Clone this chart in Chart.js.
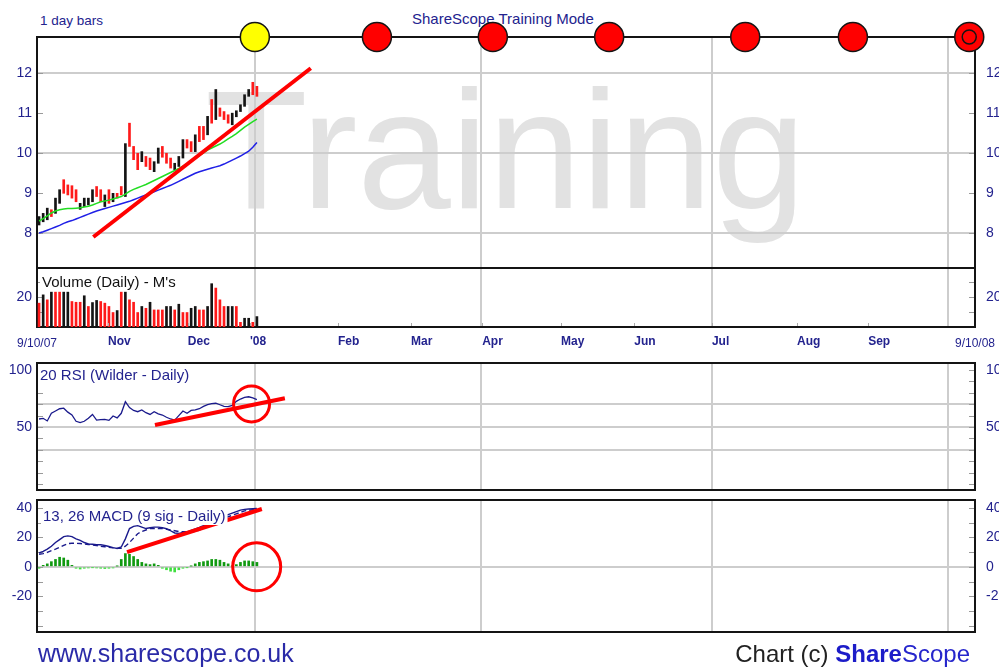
<!DOCTYPE html>
<html>
<head>
<meta charset="utf-8">
<script src="https://cdn.jsdelivr.net/npm/chart.js@4.4.1/dist/chart.umd.min.js"></script>
<style>
  html, body { margin: 0; padding: 0; background: #fff; }
  #wrap { position: relative; width: 999px; height: 670px; overflow: hidden;
          font-family: "Liberation Sans", Arial, sans-serif; }
  #wrap canvas { position: absolute; left: 0; top: 0; }
  .txt { position: absolute; white-space: nowrap; line-height: 1; }
</style>
</head>
<body>
<div id="wrap">
  <div class="txt" style="left:40px;top:13.6px;font-size:13.5px;color:#23238e">1 day bars</div>
  <div class="txt" style="left:412px;top:11.3px;font-size:15px;color:#23238e">ShareScope Training Mode</div>
  <canvas id="cPrice" width="999" height="670"></canvas>
  <canvas id="cVol" width="999" height="670"></canvas>
  <canvas id="cRsi" width="999" height="670"></canvas>
  <canvas id="cMacd" width="999" height="670"></canvas>
  <div class="txt" style="left:38px;top:641.3px;font-size:25px;color:#2a2aa8">www.sharescope.co.uk</div>
  <div class="txt" style="right:29px;top:641.7px;font-size:24px;color:#222">Chart (c) <b style="color:#1c1cc8">Share</b><span style="color:#2626cc">Scope</span></div>
</div>
<script>
'use strict';

// ── Daily bars, 9/10/07 → end of Dec 07 (one entry per trading day) ─────────
var priceHigh = [8.41, 8.49, 8.62, 8.58, 8.87, 9.08, 9.33, 9.20, 9.18, 9.08,
                 8.74, 8.87, 8.87, 9.08, 9.16, 9.08, 8.95, 9.08, 8.99, 8.99,
                 9.16, 10.23, 10.74, 10.16, 9.99, 10.03, 9.91, 9.87, 9.78, 10.12,
                 10.16, 9.99, 9.87, 9.74, 9.91, 10.33, 10.33, 10.28, 10.45, 10.66,
                 10.66, 10.91, 11.33, 11.58, 11.12, 11.03, 10.95, 10.99, 11.05, 11.20,
                 11.45, 11.58, 11.76, 11.66];
var priceLow  = [8.20, 8.28, 8.33, 8.41, 8.49, 8.74, 8.99, 8.95, 8.87, 8.78,
                 8.59, 8.66, 8.70, 8.78, 8.91, 8.78, 8.66, 8.74, 8.78, 8.87,
                 8.95, 8.91, 10.16, 9.83, 9.58, 9.78, 9.66, 9.58, 9.53, 9.74,
                 9.89, 9.74, 9.62, 9.58, 9.66, 9.87, 10.12, 10.03, 10.03, 10.28,
                 10.33, 10.45, 10.74, 10.83, 10.91, 10.83, 10.74, 10.70, 10.90, 11.03,
                 11.16, 11.41, 11.45, 11.41];
var barUp     = [1, 1, 1, 0, 1, 1, 0, 0, 0, 0,  1, 1, 1, 1, 0, 0, 1, 0, 1, 0,
                 0, 1, 0, 0, 0, 1, 0, 0, 1, 1,  0, 0, 0, 1, 1, 1, 0, 0, 1, 0,
                 0, 1, 0, 1, 0, 0, 0, 1, 1, 1,  1, 1, 0, 0];
var maGreen   = [8.30, 8.36, 8.43, 8.50, 8.55, 8.58, 8.60, 8.61, 8.61, 8.62,
                 8.63, 8.65, 8.67, 8.70, 8.74, 8.78, 8.80, 8.82, 8.85, 8.88,
                 8.91, 8.97, 9.04, 9.09, 9.13, 9.17, 9.21, 9.26, 9.31, 9.36,
                 9.41, 9.46, 9.51, 9.56, 9.61, 9.67, 9.73, 9.79, 9.86, 9.93,
                 10.00, 10.07, 10.12, 10.17, 10.22, 10.28, 10.35, 10.41, 10.48, 10.56,
                 10.64, 10.71, 10.78, 10.84];
var maBlue    = [8.00, 8.03, 8.07, 8.11, 8.15, 8.19, 8.24, 8.28, 8.31, 8.35,
                 8.39, 8.43, 8.47, 8.51, 8.55, 8.58, 8.61, 8.64, 8.67, 8.70,
                 8.73, 8.76, 8.79, 8.83, 8.87, 8.91, 8.95, 8.99, 9.03, 9.07,
                 9.11, 9.15, 9.19, 9.24, 9.29, 9.34, 9.39, 9.44, 9.49, 9.53,
                 9.56, 9.59, 9.62, 9.65, 9.68, 9.72, 9.77, 9.82, 9.87, 9.92,
                 9.98, 10.04, 10.14, 10.26];
var volume    = [15.8, 21.3, 18, 23.1, 23.1, 23.1, 23.1, 23.1, 16.9, 16.4,
                 16.4, 20.7, 13.6, 16.2, 17.6, 16.9, 15.8, 13.6, 9.6, 10.9,
                 23.1, 23.1, 18, 16.4, 9.6, 13.6, 12.4, 16.4, 11.3, 11.3,
                 11.3, 13.6, 13.6, 11.3, 15.1, 9.6, 9.6, 12.4, 13.6, 11.3,
                 11.3, 13.6, 28.7, 25.8, 18, 13.6, 13.6, 13.6, 13.6, 3.1,
                 5.8, 5.8, 3.1, 6.9];
var volUp     = [0, 1, 0, 1, 0, 0, 1, 1, 0, 0,  0, 1, 0, 1, 1, 0, 0, 0, 0, 1,
                 0, 1, 0, 0, 0, 1, 0, 1, 0, 0,  0, 1, 1, 0, 1, 0, 0, 1, 1, 0,
                 0, 1, 1, 0, 0, 0, 1, 1, 0, 0,  1, 1, 0, 1];
var rsi       = [57, 57.6, 55.3, 62, 64, 66, 66.5, 63, 60.5, 55,
                 53.8, 55, 57.6, 61, 56, 56.5, 56.7, 55.8, 59.6, 58,
                 62, 72.2, 67, 64.5, 63.4, 65, 62.5, 61, 63.4, 61.5,
                 60.5, 58.5, 57, 56, 60, 64, 62, 64.5, 65, 66,
                 68, 69.5, 70.5, 70.8, 69.5, 68, 67.8, 69, 72.5, 74.5,
                 76, 76.5, 75.5, 74];
var macd      = [9.5, 10.5, 12, 14, 16.5, 18.5, 20.5, 21, 20.5, 19,
                 18, 16.5, 15.5, 15.3, 15, 15.1, 14.5, 13.8, 13, 12.5,
                 13.5, 19, 26, 27.5, 28, 27, 26, 26.5, 27, 27,
                 26.5, 26, 24.5, 23, 22.7, 23.3, 23.8, 24.8, 25.8, 26.8,
                 28, 29.3, 30.5, 31.5, 33, 34.5, 35.5, 36.5, 37.5, 38.5,
                 39, 39.3, 39.5, 39.6];
var macdSignal = [8.5, 9, 9.8, 11, 12, 13.2, 14.5, 15.8, 16, 16,
                 15.8, 15.5, 15.2, 14.9, 14.5, 14, 13.6, 13.2, 12.9, 12.6,
                 12.5, 14, 16.5, 19.5, 22.5, 24, 25, 26, 26, 26,
                 26, 25.5, 25, 24.5, 24, 23.8, 23.8, 23.8, 24, 25,
                 26.2, 27.1, 28.5, 30, 31.5, 33, 34, 35, 36, 37,
                 38, 38.4, 38.8, 39];
var macdHist  = [-1, 1, 2, 3.5, 5, 6.5, 6, 4.5, 1, -1,
                 -1.5, -1, -0.8, -0.5, -0.8, -1, -1.2, -1, -0.8, 0.5,
                 5, 9, 8.5, 7, 5, 3, 2, 1.5, 2, 1,
                 -1, -2, -3, -3.5, -2, -1, -0.5, 0.5, 2, 3,
                 3.5, 4, 5, 5, 4.5, 3, 2, 0.5, 1.5, 3,
                 4, 4, 3.5, 3];

// ── Time axis (trading-day units) ───────────────────────────────────────────
var X_MAX        = 228.2;
var quarterLines = [53.0, 108.0, 164.2, 221.7];
var monthTicks   = [17.3, 36.7, 51.8, 73.2, 91.0, 108.3, 127.5, 145.3, 164.2, 184.9, 202.2];
var monthLabels  = ['Nov', 'Dec', "'08", 'Feb', 'Mar', 'Apr', 'May', 'Jun', 'Jul', 'Aug', 'Sep'];
var endDates     = ['9/10/07', '9/10/08'];

// ── Value axes ──────────────────────────────────────────────────────────────
var priceTicks = [8, 9, 10, 11, 12],      priceLabels = [8, 9, 10, 11, 12], priceGrid = [8, 10, 12];
var volTicks   = [10, 20, 30],            volLabels   = [20],               volGrid   = [];
var rsiTicks   = [0, 10, 20, 30, 40, 50, 60, 70, 80, 90, 100], rsiLabels = [50, 100], rsiGrid = [30, 50, 70];
var macdTicks  = [-40, -30, -20, -10, 0, 10, 20, 30, 40], macdLabels = [-20, 0, 20, 40], macdGrid = [0];

// ── Training-mode markers and hand-drawn annotations ────────────────────────
var stageX      = [53.0, 82.7, 110.9, 139.2, 172.3, 198.5, 226.8];
var priceTrendX = [13.7, 66.6],  priceTrendY = [7.9, 12.11];
var rsiTrendX   = [28.7, 60.3],  rsiTrendY   = [51.8, 75.2];
var rsiMarkX    = [52.2],        rsiMarkY    = [70.2];
var macdTrendX  = [21.9, 54.7],  macdTrendY  = [10, 39.3];
var macdMarkX   = [53.45],       macdMarkY   = [0];

// ── Style ───────────────────────────────────────────────────────────────────
var NAVY = '#23238e', GRID = '#cdcdcd', RED = '#ff1a1a', INK = '#141414';
var FONT = '"Liberation Sans", Arial, sans-serif';

Chart.defaults.font.family = FONT;
Chart.defaults.animation = false;
Chart.defaults.events = [];
Chart.defaults.plugins.legend.display = false;
Chart.defaults.plugins.tooltip.enabled = false;

function xy(xs, ys) { return xs.map(function (x, i) { return { x: x, y: ys[i] }; }); }
function perBar(vals) { return vals.map(function (v, i) { return { x: i + 0.5, y: v }; }); }

// ── Plugins ─────────────────────────────────────────────────────────────────
// panel box + short inside tick marks on both edges
var framePlugin = {
  id: 'frame',
  beforeDatasetsDraw: function (chart) {
    var a = chart.chartArea, ctx = chart.ctx, ys = chart.scales.y;
    ctx.save();
    ctx.strokeStyle = '#9a9a9a';
    ctx.lineWidth = 1;
    ys.ticks.forEach(function (t) {
      var p = Math.round(ys.getPixelForValue(t.value)) + 0.5;
      ctx.beginPath();
      ctx.moveTo(a.left, p);  ctx.lineTo(a.left + 6, p);
      ctx.moveTo(a.right - 6, p); ctx.lineTo(a.right, p);
      ctx.stroke();
    });
    ctx.strokeStyle = INK;
    ctx.lineWidth = 2;
    ctx.strokeRect(a.left, a.top, a.right - a.left, a.bottom - a.top);
    ctx.restore();
  }
};

// indicator name, top-left, on a white patch
var labelPlugin = {
  id: 'panelLabel',
  afterDatasetsDraw: function (chart, args, o) {
    if (!o || !o.text) return;
    var ctx = chart.ctx;
    ctx.save();
    ctx.font = '15px ' + FONT;
    var w = ctx.measureText(o.text).width;
    ctx.fillStyle = '#fff';
    ctx.fillRect(o.x - 2, o.y - 8, w + 4, 16);
    ctx.fillStyle = o.color;
    ctx.textBaseline = 'middle';
    ctx.fillText(o.text, o.x, o.y);
    ctx.restore();
  }
};

var watermarkPlugin = {
  id: 'watermark',
  beforeDraw: function (chart) {
    var ctx = chart.ctx;
    ctx.save();
    ctx.font = '168px ' + FONT;
    ctx.fillStyle = '#e2e2e2';
    ctx.textBaseline = 'alphabetic';
    ctx.fillText('Training', 205, 208);
    ctx.restore();
  }
};

// month names under the volume panel
var datePlugin = {
  id: 'dateRow',
  afterDraw: function (chart) {
    var ctx = chart.ctx, xs = chart.scales.x, a = chart.chartArea;
    ctx.save();
    ctx.fillStyle = NAVY;
    ctx.textBaseline = 'middle';
    ctx.textAlign = 'left';
    ctx.font = 'bold 12px ' + FONT;
    monthTicks.forEach(function (v, i) {
      ctx.fillText(monthLabels[i], xs.getPixelForValue(v), 341.5);
    });
    ctx.font = '12px ' + FONT;
    ctx.textAlign = 'center';
    ctx.fillText(endDates[0], xs.getPixelForValue(0), 344);
    ctx.fillText(endDates[1], xs.getPixelForValue(X_MAX), 344);
    ctx.fillStyle = '#aaa';
    monthTicks.forEach(function (v) {
      ctx.fillRect(Math.round(xs.getPixelForValue(v)), a.bottom - 4, 1, 3);
    });
    ctx.restore();
  }
};

// ── Scales ──────────────────────────────────────────────────────────────────
function xScale() {
  return {
    type: 'linear', min: 0, max: X_MAX, offset: false,
    afterFit: function (s) { s.height = 0; },
    afterBuildTicks: function (s) { s.ticks = quarterLines.map(function (v) { return { value: v }; }); },
    ticks: { display: false },
    grid: { color: GRID, lineWidth: 2, drawTicks: false, offset: false },
    border: { display: false }
  };
}

function yScale(pos, c) {
  return {
    type: 'linear', position: pos, min: c.min, max: c.max,
    afterFit: function (s) { s.width = (pos === 'left') ? 37 : 24; },
    afterBuildTicks: function (s) { s.ticks = c.ticks.map(function (v) { return { value: v }; }); },
    ticks: {
      autoSkip: false, color: NAVY, font: { size: 14 }, padding: (pos === 'left') ? 5 : 11,
      callback: function (v) { return c.labels.indexOf(v) >= 0 ? String(v) : ''; }
    },
    grid: (pos === 'left')
      ? { drawTicks: false, lineWidth: 2,
          color: function (ctx) { return (ctx.tick && c.grid.indexOf(ctx.tick.value) >= 0) ? GRID : 'rgba(0,0,0,0)'; } }
      : { display: false, drawTicks: false },
    border: { display: false }
  };
}

function makePanel(canvasId, cfg) {
  return new Chart(document.getElementById(canvasId), {
    type: 'bar',
    data: { datasets: cfg.datasets },
    options: {
      responsive: false,
      layout: { autoPadding: false, padding: { top: cfg.top, bottom: 670 - cfg.bottom, left: 0, right: 0 } },
      plugins: { panelLabel: cfg.label || {} },
      scales: { x: xScale(), y: yScale('left', cfg.y), y2: yScale('right', cfg.y) }
    },
    plugins: [framePlugin, labelPlugin].concat(cfg.plugins || [])
  });
}

// ── Price panel ─────────────────────────────────────────────────────────────
var PRICE_MAX = 12.89;
makePanel('cPrice', {
  top: 37, bottom: 268,
  y: { min: 7.127, max: PRICE_MAX, ticks: priceTicks, labels: priceLabels, grid: priceGrid },
  plugins: [watermarkPlugin],
  datasets: [
    { type: 'line', data: [{ x: stageX[stageX.length - 1], y: PRICE_MAX }], showLine: false,
      pointRadius: 7, pointBackgroundColor: '#ff0000', pointBorderColor: INK, pointBorderWidth: 1.5, clip: false },
    { type: 'line', data: stageX.map(function (x) { return { x: x, y: PRICE_MAX }; }), showLine: false,
      pointRadius: 14.5, pointBorderColor: INK, pointBorderWidth: 1.5, clip: false,
      pointBackgroundColor: stageX.map(function (x, i) { return i === 0 ? '#ffff00' : '#ff0000'; }) },
    { type: 'line', data: xy(priceTrendX, priceTrendY), borderColor: '#ff0000', borderWidth: 4, pointRadius: 0, clip: false },
    { type: 'line', data: perBar(maGreen), borderColor: '#22dd22', borderWidth: 1.5, pointRadius: 0 },
    { type: 'line', data: perBar(maBlue), borderColor: '#1f1fe6', borderWidth: 1.5, pointRadius: 0 },
    { type: 'bar', data: priceHigh.map(function (h, i) { return { x: i + 0.5, y: [priceLow[i], h] }; }),
      backgroundColor: barUp.map(function (u) { return u ? INK : RED; }), barThickness: 2 }
  ]
});

// ── Volume panel ────────────────────────────────────────────────────────────
makePanel('cVol', {
  top: 268, bottom: 327,
  y: { min: 0, max: 39.1, ticks: volTicks, labels: volLabels, grid: volGrid },
  label: { text: "Volume (Daily) - M's", x: 42, y: 283, color: '#111' },
  plugins: [datePlugin],
  datasets: [
    { type: 'bar', data: perBar(volume), barThickness: 2,
      backgroundColor: volUp.map(function (u) { return u ? INK : RED; }) }
  ]
});

// ── RSI panel ───────────────────────────────────────────────────────────────
makePanel('cRsi', {
  top: 363, bottom: 490,
  y: { min: -5.26, max: 106.1, ticks: rsiTicks, labels: rsiLabels, grid: rsiGrid },
  label: { text: '20 RSI (Wilder - Daily)', x: 40, y: 376, color: NAVY },
  datasets: [
    { type: 'line', data: xy(rsiTrendX, rsiTrendY), borderColor: '#ff0000', borderWidth: 4, pointRadius: 0, clip: false },
    { type: 'line', data: xy(rsiMarkX, rsiMarkY), showLine: false, pointRadius: 18,
      pointBackgroundColor: 'rgba(0,0,0,0)', pointBorderColor: '#ff0000', pointBorderWidth: 3, clip: false },
    { type: 'line', data: perBar(rsi), borderColor: '#1a1a8c', borderWidth: 1.3, pointRadius: 0 }
  ]
});

// ── MACD panel ──────────────────────────────────────────────────────────────
makePanel('cMacd', {
  top: 500, bottom: 632,
  y: { min: -44.3, max: 45.4, ticks: macdTicks, labels: macdLabels, grid: macdGrid },
  label: { text: '13, 26 MACD (9 sig - Daily)', x: 43, y: 517, color: NAVY },
  datasets: [
    { type: 'line', data: xy(macdMarkX, macdMarkY), showLine: false, pointRadius: 24,
      pointBackgroundColor: 'rgba(0,0,0,0)', pointBorderColor: '#ff0000', pointBorderWidth: 3, clip: false },
    { type: 'line', data: xy(macdTrendX, macdTrendY), borderColor: '#ff0000', borderWidth: 4, pointRadius: 0, clip: false },
    { type: 'line', data: perBar(macd), borderColor: '#1a1a8c', borderWidth: 1.4, pointRadius: 0 },
    { type: 'line', data: perBar(macdSignal), borderColor: '#1a1a8c', borderWidth: 1.4, borderDash: [5, 3], pointRadius: 0 },
    { type: 'bar', data: perBar(macdHist), barThickness: 2,
      backgroundColor: macdHist.map(function (v) { return v >= 0 ? '#119a11' : '#3ee03e'; }) }
  ]
});
</script>
</body>
</html>
